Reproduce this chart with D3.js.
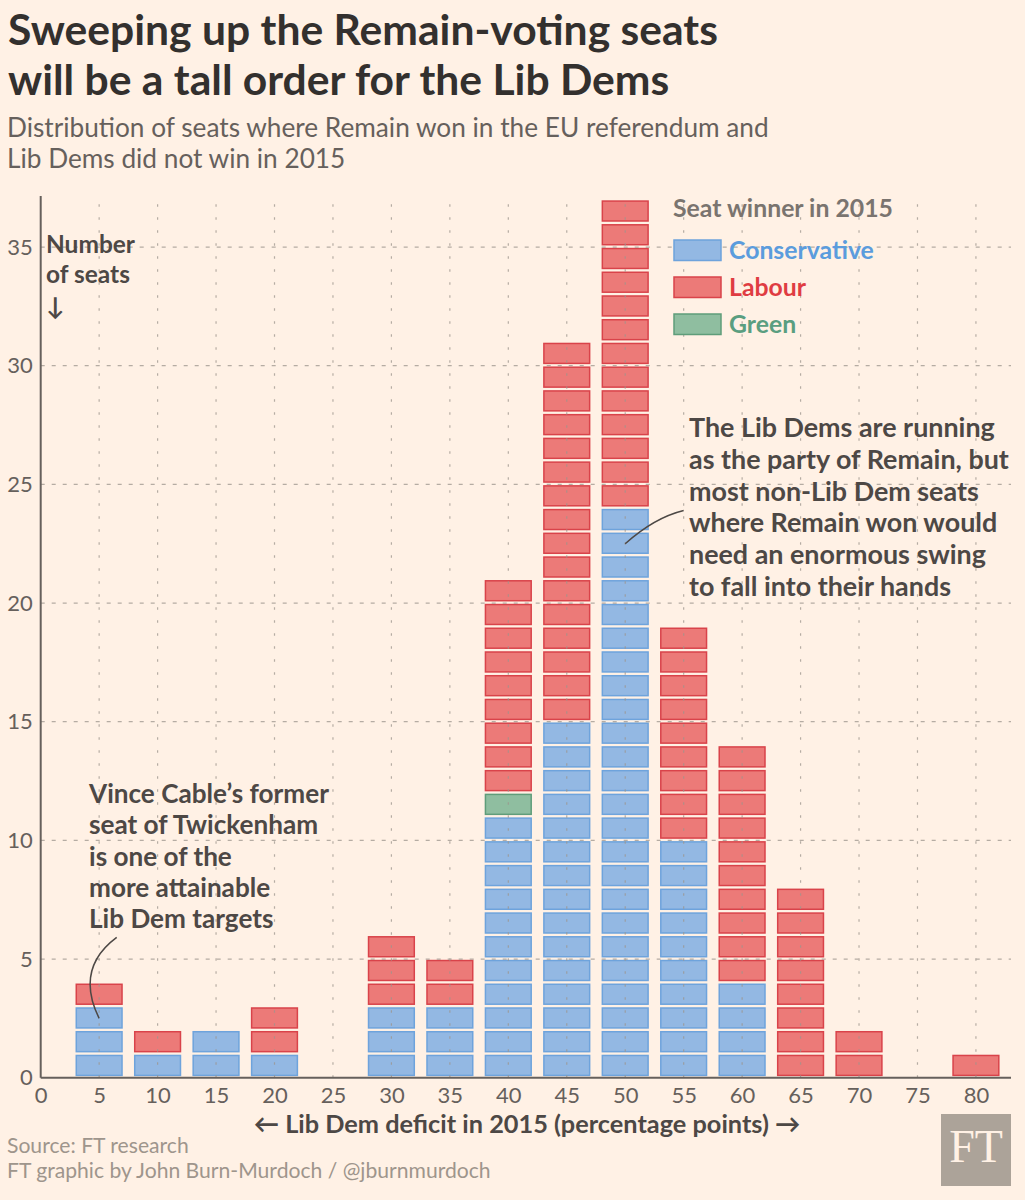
<!DOCTYPE html>
<html><head><meta charset="utf-8">
<script src="https://cdn.jsdelivr.net/npm/d3@7"></script>
<style>
html,body{margin:0;padding:0;background:#fff1e5;}
svg{display:block;font-family:Lato,"Open Sans",sans-serif;}
</style></head>
<body>
<svg id="chart" width="1025" height="1200"></svg>
<script>
// ---- data ----
const bins = [5,10,15,20,30,35,40,45,50,55,60,65,70,80];
const conservative = [3,1,2,1,3,3,11,15,24,10,4,0,0,0];
const green        = [0,0,0,0,0,0,1,0,0,0,0,0,0,0];
const labour       = [1,1,0,2,3,2,9,16,13,9,10,8,2,1];
const seriesNames = ["Conservative","Green","Labour"];
const xTicks = [0,5,10,15,20,25,30,35,40,45,50,55,60,65,70,75,80];
const yTicks = [0,5,10,15,20,25,30,35];
const legendNames = ["Conservative","Labour","Green"];

const fills  = {Conservative:"#93b8e3", Labour:"#ec7a78", Green:"#8fbea0"};
const strokes= {Conservative:"#6ea3dc", Labour:"#d9434a", Green:"#5f9d7a"};
const textCol= {Conservative:"#5b9cdd", Labour:"#df3c42", Green:"#5a9e80"};

const svg = d3.select("#chart");
svg.append("rect").attr("width",1025).attr("height",1200).attr("fill","#fff1e5");

const x = d3.scaleLinear().domain([0,83]).range([40.7,1011]);
const y = d3.scaleLinear().domain([0,37.15]).range([1077.7,196]);

function fit(sel, target){
  const w = sel.node().getComputedTextLength();
  const fs = parseFloat(sel.attr("font-size"));
  return fs*target/w;
}

// ---- title ----
const title = svg.append("g");
const t1 = title.append("text").attr("x",8).attr("y",45).attr("font-size",38).attr("font-weight",700)
  .attr("fill","#33302e").text("Sweeping up the Remain-voting seats");
const tfs = fit(t1,710);
t1.attr("font-size",tfs);
title.append("text").attr("x",8).attr("y",95).attr("font-size",tfs).attr("font-weight",700)
  .attr("fill","#33302e").text("will be a tall order for the Lib Dems");
const s1 = svg.append("text").attr("x",7).attr("y",137).attr("font-size",24).attr("fill","#66605c")
  .text("Distribution of seats where Remain won in the EU referendum and");
const sfs = fit(s1,762);
s1.attr("font-size",sfs);
svg.append("text").attr("x",7).attr("y",168).attr("font-size",sfs).attr("fill","#66605c")
  .text("Lib Dems did not win in 2015");

// ---- cells ----
const cells = [];
bins.forEach((b,i)=>{
  let k=0;
  const vals = {Conservative:conservative[i], Green:green[i], Labour:labour[i]};
  seriesNames.forEach(s=>{
    for(let j=0;j<vals[s];j++){ cells.push({bin:b, idx:k, party:s}); k++; }
  });
});
svg.append("g").selectAll("rect").data(cells).join("rect")
  .attr("x",d=>x(d.bin-2)+0.5)
  .attr("width",d=>x(d.bin+2)-x(d.bin-2)-1)
  .attr("y",d=>y(d.idx+1)+1.5)
  .attr("height",d=>y(d.idx)-y(d.idx+1)-3.8)
  .attr("fill",d=>fills[d.party])
  .attr("stroke",d=>strokes[d.party])
  .attr("stroke-width",1.5);

// ---- gridlines (drawn over bars) ----
const grid = svg.append("g").attr("stroke","#9d958d").attr("stroke-width",1.2).attr("opacity",0.75);
grid.selectAll("line.v").data(xTicks.filter(d=>d>0)).join("line")
  .attr("x1",d=>x(d)).attr("x2",d=>x(d)).attr("y1",y(0)).attr("y2",196)
  .attr("stroke-dasharray","2.5,10.5");
grid.selectAll("line.h").data(yTicks.filter(d=>d>0)).join("line")
  .attr("x1",x(0)).attr("x2",1011).attr("y1",d=>y(d)).attr("y2",d=>y(d))
  .attr("stroke-dasharray","4,7");

// ---- axes ----
const xAxis = svg.append("g").attr("transform",`translate(0,${y(0)})`)
  .call(d3.axisBottom(x).tickValues(xTicks).tickSize(0).tickPadding(10).tickFormat(d3.format("d")));
xAxis.select(".domain").attr("stroke","#66605c").attr("stroke-width",2).attr("d",`M${x(0)},0H1011`);
xAxis.selectAll("text").attr("font-size",22).attr("fill","#66605c").attr("font-family","Lato,sans-serif")
  .attr("dy","0.71em");
const yAxis = svg.append("g").attr("transform",`translate(${x(0)},0)`)
  .call(d3.axisLeft(y).tickValues(yTicks).tickSize(0).tickPadding(8));
yAxis.select(".domain").attr("stroke","#66605c").attr("stroke-width",2).attr("d",`M0,${y(0)}V196`);
yAxis.selectAll("text").attr("font-size",22).attr("fill","#66605c").attr("font-family","Lato,sans-serif");

// ---- axis titles ----
const nos = svg.append("g").attr("font-weight",700).attr("fill","#4d4845");
const n1 = nos.append("text").attr("x",46).attr("y",253).attr("font-size",22).text("Number");
const nfs = fit(n1,89);
n1.attr("font-size",nfs);
nos.append("text").attr("x",46).attr("y",283).attr("font-size",nfs).text("of seats");
nos.append("text").attr("x",46).attr("y",315).attr("font-size",nfs).text("↓");

const xl = svg.append("text").attr("x",527).attr("y",1133).attr("text-anchor","middle").attr("font-size",22)
  .attr("font-weight",700).attr("fill","#4d4845")
  .text("← Lib Dem deficit in 2015 (percentage points) →");
xl.attr("font-size",fit(xl,547));

// ---- legend ----
const leg = svg.append("g");
const lt = leg.append("text").attr("x",673).attr("y",217).attr("font-size",22).attr("font-weight",700)
  .attr("fill","#7a746f").text("Seat winner in 2015");
const lfs = fit(lt,220); lt.attr("font-size",lfs);
legendNames.forEach((n,i)=>{
  const yy = [240,277,314][i];
  leg.append("rect").attr("x",674).attr("y",yy).attr("width",47).attr("height",20.5)
    .attr("fill",fills[n]).attr("stroke",strokes[n]).attr("stroke-width",1.5);
  leg.append("text").attr("x",729).attr("y",yy+19).attr("font-size",lfs).attr("font-weight",700)
    .attr("fill",textCol[n]).text(n);
});

// ---- annotations ----
const ann1 = ["Vince Cable’s former","seat of Twickenham","is one of the","more attainable","Lib Dem targets"];
const a1 = svg.append("g").attr("fill","#4d4845").attr("font-weight",700);
const a1t = a1.selectAll("text").data(ann1).join("text").attr("x",89).attr("y",(d,i)=>803+i*31.3)
  .attr("font-size",24).text(d=>d);
const a1fs = fit(d3.select(a1t.nodes()[0]),240);
a1t.attr("font-size",a1fs);

const ann2 = ["The Lib Dems are running","as the party of Remain, but","most non-Lib Dem seats","where Remain won would","need an enormous swing","to fall into their hands"];
const a2 = svg.append("g").attr("fill","#4d4845").attr("font-weight",700);
const a2t = a2.selectAll("text").data(ann2).join("text").attr("x",689).attr("y",(d,i)=>437+i*31.8)
  .attr("font-size",24).text(d=>d);
const a2fs = fit(d3.select(a2t.nodes()[1]),320);
a2t.attr("font-size",a2fs);

// connectors
const p1 = d3.path();
p1.moveTo(x(5),y(2.5)); p1.quadraticCurveTo(x(2.9),y(4.6),x(6.5),y(6)+2);
svg.append("path").attr("d",p1.toString()).attr("fill","none").attr("stroke","#4d4845").attr("stroke-width",1.5);
const p2 = d3.path();
p2.moveTo(x(50),y(22.5)); p2.quadraticCurveTo(x(52.5),y(23.6),x(55),y(23.9));
svg.append("path").attr("d",p2.toString()).attr("fill","none").attr("stroke","#4d4845").attr("stroke-width",1.5);

// ---- source ----
const src = svg.append("g").attr("fill","#9e958c");
const sr1 = src.append("text").attr("x",7).attr("y",1153).attr("font-size",19).text("Source: FT research");
const sr2 = src.append("text").attr("x",7).attr("y",1178).attr("font-size",19).text("FT graphic by John Burn-Murdoch / @jburnmurdoch");
const srfs = fit(sr2,484); sr1.attr("font-size",srfs); sr2.attr("font-size",srfs);

// ---- FT logo ----
svg.append("rect").attr("x",941).attr("y",1114).attr("width",70).attr("height",72).attr("fill","#aca399");
svg.append("text").attr("x",976).attr("y",1162).attr("text-anchor","middle").attr("font-size",46)
  .style("font-family","'Liberation Serif','DejaVu Serif',serif").attr("fill","#fff1e5").text("FT");
</script>
</body></html>
